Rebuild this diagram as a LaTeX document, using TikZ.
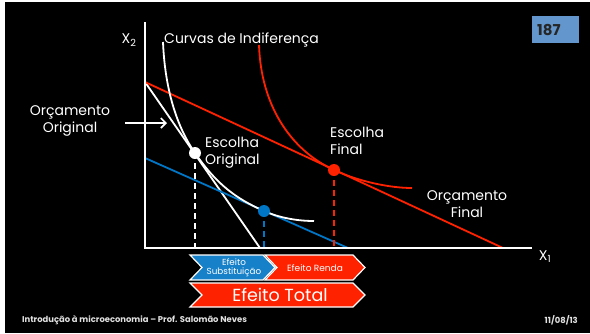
\documentclass[tikz,border=0pt]{standalone}
\usepackage{fontspec}
\setmainfont{Poppins}
\usepackage{tikz}
\usetikzlibrary{arrows.meta,positioning,calc}
\definecolor{curvered}{RGB}{255, 34, 0}
\definecolor{budgetblue}{RGB}{0, 118, 198}
\definecolor{chevblue}{RGB}{22, 128, 200}
\definecolor{tagblue}{RGB}{98, 150, 204}
\definecolor{footgray}{RGB}{225, 225, 225}

\begin{document}
\begin{tikzpicture}[x=1pt, y=-1pt, >=Stealth,
    axisline/.style={line width=2pt, white},
    curve/.style={line width=1.8pt},
    guide/.style={line width=1.8pt, dash pattern=on 6pt off 4pt},
    txt/.style={text=white, inner sep=0pt, font=\fontsize{14}{17}\selectfont},
    chevron/.style={draw=white, line width=1.2pt, line join=miter}]
    % Slide background
    \fill[white] (0,0) rectangle (590,333);
    \fill[black] (5,2) rectangle (590,333);
    \useasboundingbox (0,0) rectangle (590,333);

    % Points of the graph
    \coordinate (O) at (145,248);
    \coordinate (Ytop) at (145,22);
    \coordinate (Xend) at (532,248);
    \coordinate (Bint) at (145,82);
    \coordinate (W) at (195,153);
    \coordinate (B) at (264,211);
    \coordinate (R) at (334,170);

    % Budget lines
    \draw[curve, white] (Bint) -- (260,248);
    \draw[curve, curvered] (Bint) -- (503,248);
    \draw[curve, budgetblue] (145,158) -- (348,248);

    % Indifference curves
    \draw[curve, white] (163,42) .. controls (165,90) and (177,127) .. (W)
        .. controls (217,184.7) and (236,198.6) .. (B)
        .. controls (280,218.1) and (298,221) .. (314,221);
    \draw[curve, curvered] (259,45) .. controls (261,105) and (290,149.6) .. (R)
        .. controls (359,181.6) and (390,188) .. (412,188);

    % Guides down to the X1 axis
    \draw[guide, white] (W) -- (W |- O);
    \draw[guide, budgetblue] (B) -- (B |- O);
    \draw[guide, curvered] (R) -- (R |- O);

    % Axes
    \draw[axisline] (Ytop) -- (O) -- (Xend);
    \node[txt] (xtwo) at (129,40) {X\textsubscript{2}};
    \node[txt] (xone) at (545,257) {X\textsubscript{1}};

    % Choices
    \fill[white] (W) circle (6pt);
    \fill[budgetblue] (B) circle (6pt);
    \fill[curvered] (R) circle (6pt);

    % Labels
    \node[txt, anchor=west] (curvas) at (164,40) {Curvas de Indiferença};
    \node[txt, align=center] (lblorig) at (70,121) {Orçamento\\Original};
    \coordinate (arrowtail) at (125,123);
    \coordinate (arrowtip) at (167,123);
    \draw[line width=1.6pt, white, -{Straight Barb[length=5pt, width=10pt]}] (arrowtail) -- (arrowtip);
    \node[txt, align=left, anchor=north west] (escorig) at (205,137) {Escolha\\Original};
    \node[txt, align=left, anchor=north west] (escfin) at (330,127) {Escolha\\Final};
    \node[txt, align=center] (orcfin) at (467,204) {Orçamento\\Final};

    % Effects
    \draw[chevron, fill=chevblue] (190,255) -- (263,255) -- (275,267.5) -- (263,280)
        -- (190,280) -- (202,267.5) -- cycle;
    \draw[chevron, fill=curvered] (265,255) -- (353,255) -- (365,267.5) -- (353,280)
        -- (265,280) -- (277,267.5) -- cycle;
    \draw[chevron, fill=curvered] (190,283) -- (353,283) -- (365,295) -- (353,307)
        -- (190,307) -- (202,295) -- cycle;
    \node[txt, align=center, font=\fontsize{8.8}{8.5}\selectfont] (subst) at (234,268) {Efeito\\Substituição};
    \node[txt, font=\fontsize{9}{9}\selectfont] (renda) at (315,268) {Efeito Renda};
    \node[txt, font=\fontsize{17.5}{19}\selectfont] (total) at (280,295) {Efeito Total};

    % Slide number and footer
    \node[fill=tagblue, anchor=north west, minimum width=47pt, minimum height=27pt,
        text width=37pt, inner sep=5pt, align=left, text={black!85},
        font=\bfseries\fontsize{15}{16}\selectfont] (slideno) at (532,16) {187};
    \node[anchor=west, inner sep=0pt, text=footgray, font=\bfseries\fontsize{8.4}{9}\selectfont]
        (footer) at (22,320) {Introdução à microeconomia – Prof. Salomão Neves};
    \node[anchor=east, inner sep=0pt, text=footgray, font=\bfseries\fontsize{8.4}{9}\selectfont]
        (date) at (578,320) {11/08/13};
\end{tikzpicture}
\end{document}
